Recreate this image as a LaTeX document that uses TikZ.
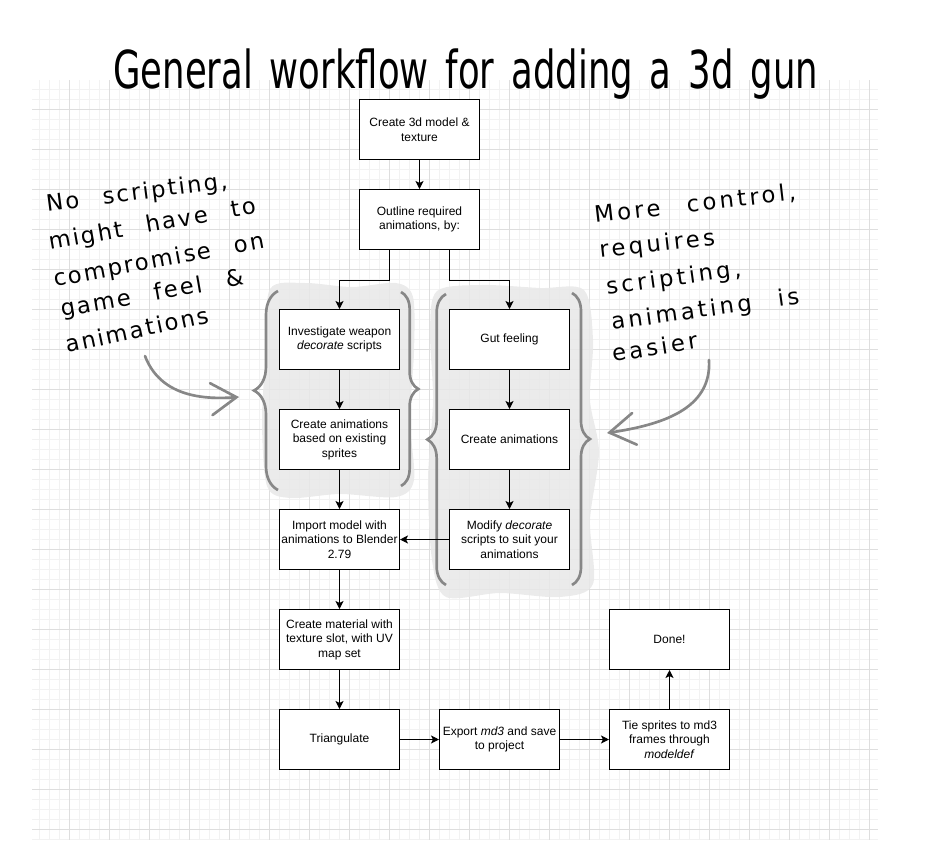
\documentclass[tikz,border=0pt]{standalone}
\usepackage{fontspec}
\setmainfont{Liberation Sans}
\newfontfamily\titlehand[WordSpace=1.5]{DejaVu Sans}
\newfontfamily\handleft[LetterSpace=10,WordSpace=2.5]{DejaVu Sans}
\newfontfamily\handright[LetterSpace=15,WordSpace=2.5]{DejaVu Sans}
\usetikzlibrary{arrows.meta, positioning, calc, decorations.pathreplacing}

\begin{document}
\begin{tikzpicture}[x=0.75pt, y=-0.75pt,
    box/.style={draw, line width=0.75pt, fill=white, minimum width=90pt, minimum height=45pt,
        inner sep=1pt, align=center, font=\fontsize{9}{10.9}\selectfont},
    arr/.style={-{Stealth[length=6pt, width=6pt, inset=1.5pt]}, line width=0.75pt},
    hand/.style={anchor=base west, inner sep=0pt},
    curly/.style={draw=black!47, line width=2pt, decorate, decoration={brace, amplitude=#1}},
    scrawl/.style={draw=black!47, line width=2pt, line cap=round,
        -{Straight Barb[length=19pt, width=24pt, line cap=round]}},
    blob/.style={fill=black!9, fill opacity=0.85, draw=none}]
    \useasboundingbox (0,0) rectangle (940,868);

    % grid paper
    \foreach \i in {0,...,83} \draw[black!5, line width=0.75pt] ({39.5+10*\i},80) -- ({39.5+10*\i},840);
    \foreach \i in {0,...,75} \draw[black!5, line width=0.75pt] (32,{89.5+10*\i}) -- (878,{89.5+10*\i});
    \foreach \i in {0,...,20} \draw[black!13, line width=0.75pt] ({69.5+40*\i},80) -- ({69.5+40*\i},840);
    \foreach \i in {0,...,18} \draw[black!13, line width=0.75pt] (32,{109.5+40*\i}) -- (878,{109.5+40*\i});

    % watercolour patches behind the two branches
    \fill[blob] plot[smooth cycle] coordinates {(270,289) (305,283) (352,287) (396,283) (413,297) (414,352)
        (410,420) (414,480) (396,497) (340,494) (290,498) (267,486) (262,420) (266,350)};
    \fill[blob] plot[smooth cycle] coordinates {(437,291) (482,285) (540,288) (584,290) (593,340) (590,400)
        (599,452) (590,520) (593,584) (560,597) (500,593) (446,597) (432,560) (428,480) (433,400) (430,330)};

    % braces
    \draw[curly=18pt] (278,490) -- (278,291);
    \draw[curly=13pt] (401,292) -- (401,486);
    \draw[curly=14pt] (446,585) -- (446,294);
    \draw[curly=13.5pt] (572,293) -- (572,585);

    % boxes
    \node[box] (model) at (419.5,129.5) {Create 3d model \&\\texture};
    \node[box] (outline) at (419.5,219.5) {Outline required\\animations, by:};
    \node[box] (investigate) at (339.5,339.5) {Investigate weapon\\\textit{decorate} scripts};
    \node[box] (basedanim) at (339.5,439.5) {Create animations\\based on existing\\sprites};
    \node[box] (import) at (339.5,539.5) {Import model with\\animations to Blender\\2.79};
    \node[box] (gut) at (509.5,339.5) {Gut feeling};
    \node[box] (createanim) at (509.5,439.5) {Create animations};
    \node[box] (modify) at (509.5,539.5) {Modify \textit{decorate}\\scripts to suit your\\animations};
    \node[box] (material) at (339.5,639.5) {Create material with\\texture slot, with UV\\map set};
    \node[box] (triangulate) at (339.5,739.5) {Triangulate};
    \node[box] (export) at (499.5,739.5) {Export \textit{md3} and save\\to project};
    \node[box] (tie) at (669.5,739.5) {Tie sprites to md3\\frames through\\\textit{modeldef}};
    \node[box] (done) at (669.5,639.5) {Done!};

    % connectors
    \draw[arr] (model) -- (outline);
    \draw[arr] ($(outline.south)+(-30,0)$) -- ++(0,30) -| (investigate);
    \draw[arr] ($(outline.south)+(30,0)$) -- ++(0,30) -| (gut);
    \draw[arr] (investigate) -- (basedanim);
    \draw[arr] (basedanim) -- (import);
    \draw[arr] (gut) -- (createanim);
    \draw[arr] (createanim) -- (modify);
    \draw[arr] (modify) -- (import);
    \draw[arr] (import) -- (material);
    \draw[arr] (material) -- (triangulate);
    \draw[arr] (triangulate) -- (export);
    \draw[arr] (export) -- (tie);
    \draw[arr] (tie) -- (done);

    % handwritten notes
    \node[hand, font=\titlehand\fontsize{28}{32}\selectfont] (title) at (113,88)
        {\scalebox{0.95}[1.4]{General workflow for adding a 3d gun}};

    \node[hand, rotate=7.5, font=\handleft\fontsize{17}{20}\selectfont] (noscript1) at (47,212) {No scripting,};
    \node[hand, rotate=10, font=\handleft\fontsize{17}{20}\selectfont] (noscript2) at (50,250) {might have to};
    \node[hand, rotate=10.5, font=\handleft\fontsize{17}{20}\selectfont] (noscript3) at (55,287) {compromise on};
    \node[hand, rotate=10, font=\handleft\fontsize{17}{20}\selectfont] (noscript4) at (62,317) {game feel \&};
    \node[hand, rotate=12, font=\handleft\fontsize{17}{20}\selectfont] (noscript5) at (67,353) {animations};

    \node[hand, rotate=6.5, font=\handright\fontsize{17}{20}\selectfont] (control1) at (595,223) {More control,};
    \node[hand, rotate=6.5, font=\handright\fontsize{17}{20}\selectfont] (control2) at (600,258) {requires};
    \node[hand, rotate=8, font=\handright\fontsize{17}{20}\selectfont] (control3) at (607,295) {scripting,};
    \node[hand, rotate=8, font=\handright\fontsize{17}{20}\selectfont] (control4) at (612,330) {animating is};
    \node[hand, rotate=9, font=\handright\fontsize{17}{20}\selectfont] (control5) at (613,362) {easier};

    % curved pointers to the braces
    \coordinate (leftfrom) at (145,356);
    \coordinate (leftto) at (239,397);
    \coordinate (rightfrom) at (709,360);
    \coordinate (rightto) at (607,433);
    \draw[scrawl] (leftfrom) .. controls (160,395) and (200,400) .. (leftto);
    \draw[scrawl] (rightfrom) .. controls (712,410) and (660,425) .. (rightto);
\end{tikzpicture}
\end{document}
